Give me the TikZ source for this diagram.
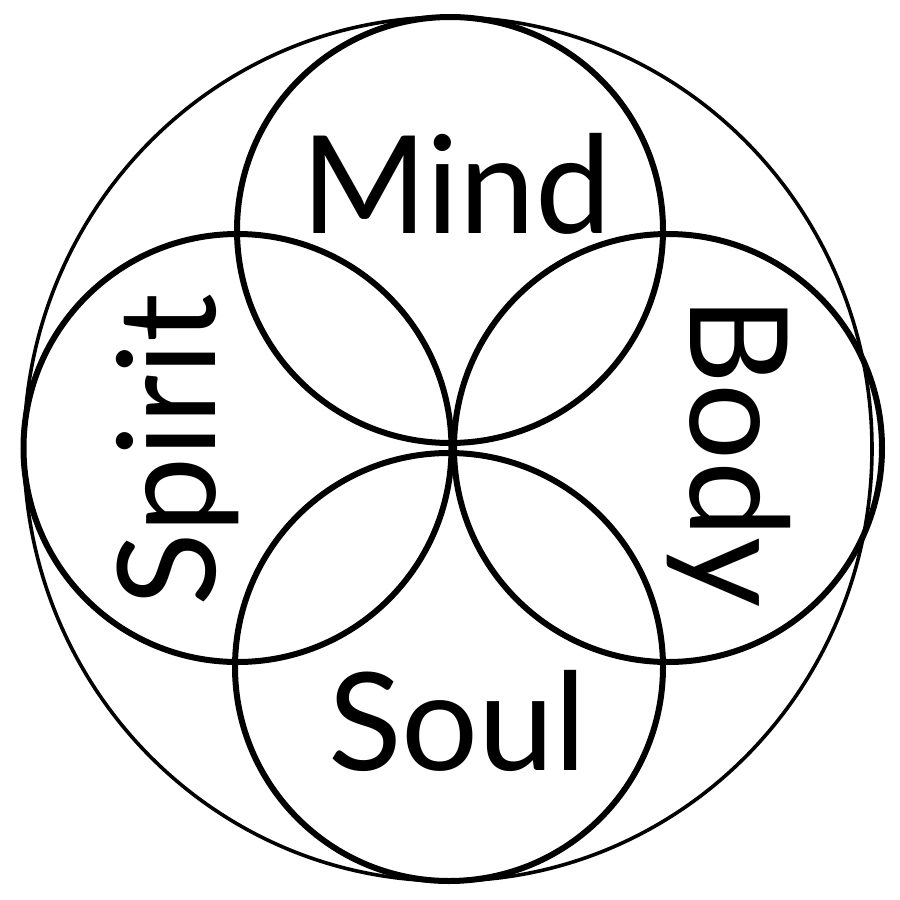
\documentclass[tikz,border=0pt]{standalone}
\usepackage{fontspec}
\newfontfamily\labelfont{Lato}
\usepackage{tikz}

\begin{document}
\begin{tikzpicture}[x=1pt,y=1pt,yscale=-1,xscale=1]
\tikzset{ring/.style={line width=6pt},
  word/.style={inner sep=0pt,anchor=base,font=\labelfont\fontsize{136}{136}\selectfont}}
\useasboundingbox (0,0) rectangle (900,900);

%Outer Circle
\draw  [line width=3.6pt]  (448,449) ellipse (424 and 432) ;
%Circle Mind
\draw  [ring]  (450,230) circle (213) ;
%Circle Spirit
\draw  [ring]  (237.5,448) circle (214) ;
%Circle Body
\draw  [ring]  (668,448) circle (214) ;
%Circle Soul
\draw  [ring]  (449,667) circle (214) ;

% Text Node
\node [word] (mind) at (456.5,233) {Mind};
% Text Node
\node [word] (soul) at (457.5,770) {Soul};
% Text Node
\node [word,rotate=90] (spirit) at (215,450) {Spirit};
% Text Node
\node [word,rotate=-90] (body) at (690,452) {Body};

\end{tikzpicture}
\end{document}
